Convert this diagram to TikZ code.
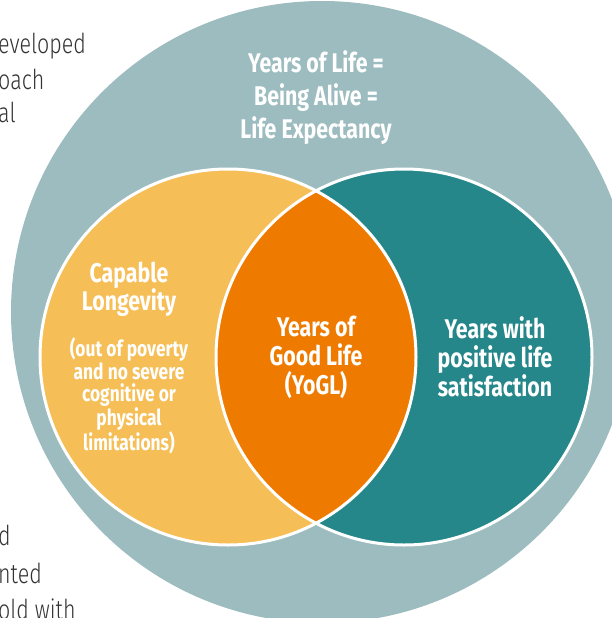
\documentclass[tikz,border=0pt]{standalone}
\usepackage{fontspec}
\setmainfont{Fira Sans}[FakeStretch=0.79]
\newfontfamily\bodyfont{Fira Sans Light}[FakeStretch=0.78]
\definecolor{outer}{HTML}{9DBCBF}
\definecolor{yel}{HTML}{F6BE56}
\definecolor{tealc}{HTML}{25878A}
\definecolor{orng}{HTML}{EE7B00}
\definecolor{doctext}{HTML}{333333}
\begin{document}
\begin{tikzpicture}[x=1pt,y=-1pt,
  lbl/.style={text=white,font=\bfseries\fontsize{27}{29}\selectfont,align=center},
  small/.style={text=white,font=\bfseries\fontsize{22}{22.5}\selectfont,align=center},
  doc/.style={text=doctext,font=\bodyfont\fontsize{27.5}{33}\selectfont,anchor=base west,inner sep=0pt}]
\useasboundingbox (0,0) rectangle (612,618);
\begin{scope}
\clip (0,0) rectangle (612,618);
\fill[outer] (322,312) circle[radius=311];
\coordinate (cl) at (228,357);
\coordinate (cr) at (404,357);
\fill[yel] (cl) circle[radius=188];
\fill[tealc] (cr) circle[radius=188];
\begin{scope}
\clip (cl) circle[radius=188];
\fill[orng] (cr) circle[radius=188];
\end{scope}
\draw[white,line width=3pt] (cl) circle[radius=188];
\draw[white,line width=3pt] (cr) circle[radius=188];
\node[doc] (d1) at (-2,54) {eveloped};
\node[doc] (d2) at (-2,89) {oach};
\node[doc] (d3) at (-2,122) {al};
\node[doc] (d4) at (-2,545) {d};
\node[doc] (d5) at (-2,583) {nted};
\node[doc] (d6) at (-2,619) {old with};
\end{scope}
\node[lbl,font=\bfseries\fontsize{27}{33}\selectfont] (top) at (316,98) {Years of Life =\\Being Alive =\\Life Expectancy};
\node[lbl,font=\bfseries\fontsize{27}{28}\selectfont] (cap) at (129,289) {Capable\\Longevity};
\node[small] (capsub) at (129,396) {(out of poverty\\and no severe\\cognitive or\\physical\\limitations)};
\node[lbl] (yogl) at (316,357) {Years of\\Good Life\\(YoGL)};
\node[lbl] (pos) at (495,357) {Years with\\positive life\\satisfaction};
\end{tikzpicture}
\end{document}
